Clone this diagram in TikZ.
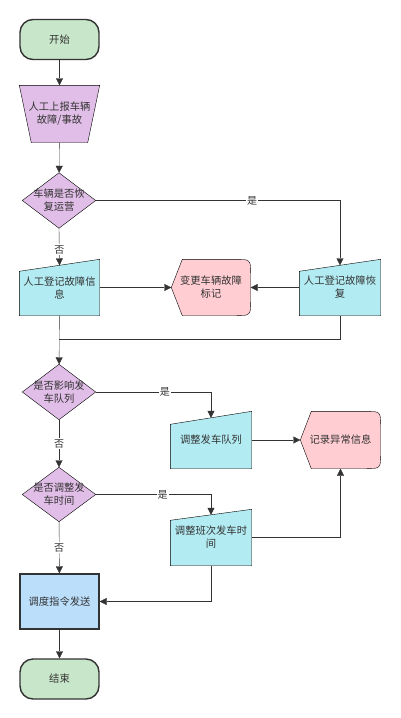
\documentclass[tikz,border=0pt]{standalone}
\usepackage{fontspec}
\setmainfont{Noto Sans CJK SC}
\usetikzlibrary{arrows.meta,calc}
\pgfdeclarelayer{background}
\pgfsetlayers{background,main}
\definecolor{edge}{HTML}{333333}
\definecolor{startgreen}{HTML}{C8E6C9}
\definecolor{repurple}{HTML}{E1BEE7}
\definecolor{incyan}{HTML}{B2EBF2}
\definecolor{markpink}{HTML}{FFCDD2}
\definecolor{sendblue}{HTML}{BBDEFB}
\tikzset{
  box/.style={minimum width=79pt, minimum height=55pt, inner sep=0pt, align=center},
  term/.style={box, minimum height=40pt, draw, rounded corners=13pt},
  dec/.style={box, minimum width=72pt, minimum height=54pt},
  lbl/.style={fill=white, inner sep=1pt, font=\fontsize{10}{12}\selectfont}
}

\begin{document}
\begin{tikzpicture}[x=1pt,y=-1pt, font=\fontsize{10.3}{13}\selectfont, color=edge,
  line width=1.4pt, >={Triangle[length=7pt,width=7pt]}]
  \useasboundingbox (0,0) rectangle (400,718);
  \node[term, fill=startgreen] (start) at (59.5,39.5) {开始};
  \node[box, minimum height=56pt] (report) at (59.5,114) {人工上报车辆\\故障/事故};
  \node[dec] (askback) at (59,200.5) {车辆是否恢\\复运营};
  \node[box] (rec) at (59.5,287.5) {人工登记故障信\\息};
  \node[box, minimum width=78pt] (mark) at (211,287.5) {变更车辆故障\\标记};
  \node[box, minimum width=80pt] (fix) at (340,287.5) {人工登记故障恢\\复};
  \node[dec] (askqueue) at (59,392) {是否影响发\\车队列};
  \node[box, minimum width=80pt, minimum height=56pt] (adjq) at (211,440) {调整发车队列};
  \node[box, minimum height=56pt] (log) at (340.5,440) {记录异常信息};
  \node[dec, minimum height=53pt] (asktime) at (59,494.5) {是否调整发\\车时间};
  \node[box, minimum width=80pt] (adjt) at (211,537.5) {调整班次发车时\\间};
  \node[box, draw, fill=sendblue] (send) at (59.5,601.5) {调度指令发送};
  \node[term, fill=startgreen] (stop) at (59.5,679) {结束};

  % shapes behind the texts
  \begin{pgfonlayer}{background}
    \filldraw[fill=repurple] (report.north west) -- (report.north east) -- ([xshift=-12pt]report.south east) -- ([xshift=12pt]report.south west) -- cycle;
    \foreach \n in {askback,askqueue,asktime}
      \filldraw[fill=repurple] (\n.north) -- (\n.east) -- (\n.south) -- (\n.west) -- cycle;
    \foreach \n/\s in {rec/12,fix/12,adjq/13,adjt/11}
      \filldraw[fill=incyan] (\n.south west) -- ([yshift=-\s pt]\n.north west) -- (\n.north east) -- (\n.south east) -- cycle;
    \foreach \n in {mark,log}
      \filldraw[fill=markpink] (\n.west) -- ([xshift=11pt]\n.north west) -- ([xshift=-17pt]\n.north east)
        .. controls (\n.north east) .. ([yshift=-15pt]\n.north east) -- ([yshift=15pt]\n.south east)
        .. controls (\n.south east) .. ([xshift=-17pt]\n.south east) -- ([xshift=11pt]\n.south west) -- cycle;
  \end{pgfonlayer}

  \coordinate (recin) at ([yshift=-6pt]rec.north);
  \coordinate (fixin) at ([yshift=-6pt]fix.north);
  \coordinate (adjqin) at ([yshift=-6.5pt]adjq.north);
  \coordinate (adjtin) at ([yshift=-5.5pt]adjt.north);
  \coordinate (merge) at ($(rec.south)!0.48!(askqueue.north)$);

  \draw[->] (start) -- (report);
  \draw[->] (report) -- (askback);
  \draw[->] (askback.east) -| node[lbl, pos=0.32] {是} (fixin);
  \draw[->] (askback.south) -- node[lbl, pos=0.58] {否} (recin);
  \draw[->] (rec) -- (mark);
  \draw[->] (fix) -- (mark);
  \draw (fix.south) |- (merge);
  \draw[->] (rec) -- (askqueue);
  \draw[->] (askqueue.east) -| node[lbl, pos=0.3] {是} (adjqin);
  \draw[->] (askqueue) -- node[lbl] {否} (asktime);
  \draw[->] (adjq) -- (log);
  \draw[->] (asktime.east) -| node[lbl, pos=0.29] {是} (adjtin);
  \draw[->] (asktime) -- node[lbl] {否} (send);
  \draw[->] (adjt.east) -| (log.south);
  \draw[->] (adjt.south) |- (send.east);
  \draw[->] (send) -- (stop);
\end{tikzpicture}
\end{document}
